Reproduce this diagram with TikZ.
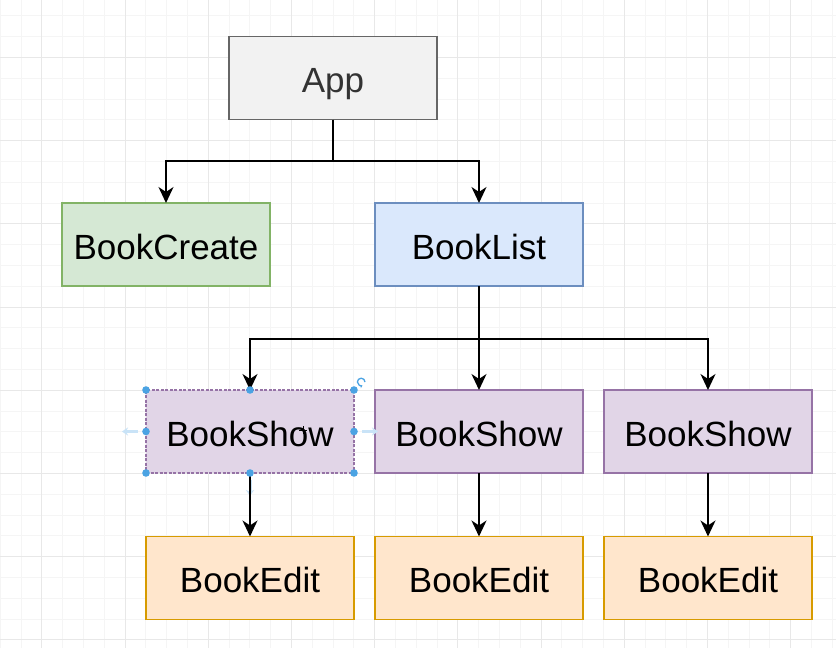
\documentclass[tikz,border=0pt]{standalone}
\usepackage{fontspec}
\setmainfont{Liberation Sans}
\usepackage{xcolor}
\usepackage{tikz}
\usetikzlibrary{positioning,calc,arrows.meta}

\definecolor{appfill}{HTML}{F2F2F2}
\definecolor{appline}{HTML}{666666}
\definecolor{createfill}{HTML}{D5E8D4}
\definecolor{createline}{HTML}{82B366}
\definecolor{listfill}{HTML}{DAE8FC}
\definecolor{listline}{HTML}{6C8EBF}
\definecolor{showfill}{HTML}{E1D5E7}
\definecolor{showline}{HTML}{9673A6}
\definecolor{editfill}{HTML}{FFE6CC}
\definecolor{editline}{HTML}{D79B00}
\definecolor{selblue}{HTML}{4BA3E3}
\definecolor{gridminor}{HTML}{F5F5F5}
\definecolor{gridmajor}{HTML}{E8E8E8}

\begin{document}
\begin{tikzpicture}[x=1pt,y=-1pt,
    comp/.style={draw,line width=1.5pt,minimum width=208pt,minimum height=83pt,
                 inner sep=0pt,outer sep=0pt,text height=29pt,text depth=0pt,
                 font=\fontsize{35}{42}\selectfont},
    link/.style={line width=2pt,-{Stealth[length=16pt,width=15pt,inset=5pt]}}]
    \useasboundingbox (0,0) rectangle (836,648);
    \fill[white] (0,0) rectangle (836,648);

    % grid
    \foreach \k in {0,...,40}
        \draw[gridminor,line width=0.8pt] (0.1+20.8*\k,0) -- (0.1+20.8*\k,648);
    \foreach \k in {0,...,31}
        \draw[gridminor,line width=0.8pt] (0,15.7+20.8*\k) -- (836,15.7+20.8*\k);
    \foreach \k in {0,...,9}
        \draw[gridmajor,line width=0.8pt] (41.7+83.2*\k,0) -- (41.7+83.2*\k,648);
    \foreach \k in {0,...,7}
        \draw[gridmajor,line width=0.8pt] (0,57.3+83.2*\k) -- (836,57.3+83.2*\k);

    \node[comp,fill=appfill,draw=appline,text=black!80] (app) at (333,78) {App};
    \node[comp,fill=createfill,draw=createline] (create) at (166,244.5) {BookCreate};
    \node[comp,fill=listfill,draw=listline] (list) at (479,244.5) {BookList};

    \node[comp,fill=showfill,draw=showline,dash pattern=on 3pt off 1.5pt] (show1) at (250,431.5) {BookShow};
    \node[comp,fill=showfill,draw=showline] (show2) at (479,431.5) {BookShow};
    \node[comp,fill=showfill,draw=showline] (show3) at (708,431.5) {BookShow};

    \node[comp,fill=editfill,draw=editline] (edit1) at (250,578) {BookEdit};
    \node[comp,fill=editfill,draw=editline] (edit2) at (479,578) {BookEdit};
    \node[comp,fill=editfill,draw=editline] (edit3) at (708,578) {BookEdit};

    \coordinate (split1) at (333,161);
    \coordinate (split2) at (479,339);

    % selection hints on the first BookShow
    \draw[selblue!30,line width=3pt,-{Stealth[length=6pt,width=8pt]}] (138,431.5) -- (122,431.5);
    \draw[selblue!30,line width=3pt,-{Stealth[length=6pt,width=8pt]}] (362,431.5) -- (378,431.5);
    \draw[selblue!30,line width=3pt,-{Stealth[length=6pt,width=8pt]}] (250,480) -- (250,496);

    \draw[link] (app.south) -- (split1) -| (create.north);
    \draw[link] (split1) -| (list.north);
    \draw[link] (list.south) -- (show2.north);
    \draw[link] (split2) -| (show1.north);
    \draw[link] (split2) -| (show3.north);
    \draw[link] (show1.south) -- (edit1.north);
    \draw[link] (show2.south) -- (edit2.north);
    \draw[link] (show3.south) -- (edit3.north);

    \foreach \a in {north west,north,north east,east,south east,south,south west,west}
        \fill[selblue] (show1.\a) circle (3.8);
    \draw[selblue,line width=1.3pt,-{Stealth[length=2.5pt,width=3.5pt]}] (365,382) arc[start angle=0,end angle=-290,radius=3.8];
    \draw[line width=0.8pt] (299,430) -- (307,430) (303,426) -- (303,434);
\end{tikzpicture}
\end{document}
